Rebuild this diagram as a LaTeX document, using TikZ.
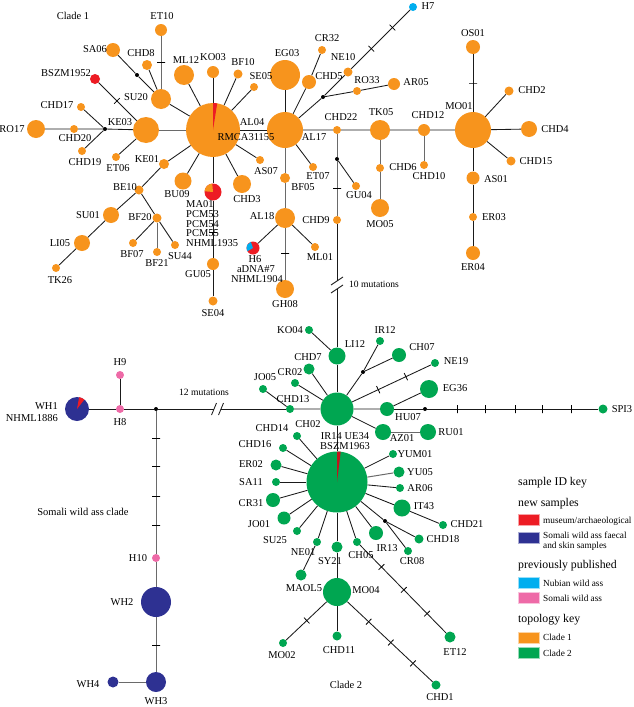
\documentclass[tikz,border=0pt]{standalone}
\usepackage{fontspec}
\setmainfont{Liberation Serif}
\definecolor{cladeone}{HTML}{F7941D}
\definecolor{cladetwo}{HTML}{00A651}
\definecolor{museum}{HTML}{ED1C24}
\definecolor{somali}{HTML}{2E3192}
\definecolor{nubian}{HTML}{00AEEF}
\definecolor{somalipub}{HTML}{EE6AA7}
\definecolor{linkdark}{HTML}{1A1A1A}
\definecolor{linklight}{HTML}{6A6A6A}

\begin{document}
\begin{tikzpicture}[
    x=1pt, y=-1pt,
    hap/.style={circle, fill=#1, inner sep=0pt},
    c1/.style={hap=cladeone, minimum size=#1},
    c2/.style={hap=cladetwo, minimum size=#1},
    cso/.style={hap=somali, minimum size=#1},
    cpk/.style={hap=somalipub, minimum size=#1},
    jn/.style={circle, fill=black, inner sep=0pt, minimum size=4pt},
    lab/.style={font=\fontsize{10.5}{10.5}\selectfont, inner sep=0pt},
    note/.style={font=\fontsize{9.6}{10}\selectfont, inner sep=0pt},
    link/.style={draw=linkdark, line width=0.85pt},
    glink/.style={draw=linklight, line width=1pt},
    mut/.style={draw=black, line width=0.8pt, sloped, inner sep=0pt, minimum width=0pt, minimum height=8pt},
    keybox/.style={rectangle, fill=#1, draw=#1!40, line width=0.5pt, minimum width=21pt, minimum height=11pt, inner sep=0pt},
    keytext/.style={font=\fontsize{9.3}{10}\selectfont, inner sep=0pt, anchor=west},
    keyhead/.style={font=\fontsize{11.8}{12}\selectfont, inner sep=0pt, anchor=west}
]
    \fill[white] (0,0) rectangle (633,707);
    \useasboundingbox (0,0) rectangle (633,707);

    % Clade 1 haplotypes
    \node[c1=54pt] (rmca) at (213,130) {};
    \fill[museum] (rmca.center) -- ++(-90:27) arc[start angle=-90, end angle=-81, radius=27] -- cycle;
    \node[c1=36pt] (al17) at (285,130) {};
    \node[c1=30pt] (eg03) at (285,75) {};
    \node[c1=20pt] (ml12) at (184,75) {};
    \node[c1=12pt] (ko03) at (213,72) {};
    \node[c1=9pt] (bf10) at (238,74) {};
    \node[c1=8pt] (se05) at (254,87) {};
    \node[c1=20pt] (su20) at (161,99) {};
    \node[c1=12pt] (et10) at (161,30) {};
    \node[c1=14pt] (sa06) at (113,50) {};
    \node[c1=10pt] (chd8) at (147,65) {};
    \node[jn] (j1) at (137,75) {};
    \node[hap=museum, minimum size=10pt] (bszm1952) at (95,79) {};
    \node[c1=26pt] (ke03) at (146,130) {};
    \node[jn] (j2) at (105,129) {};
    \node[c1=8pt] (chd20) at (74,129) {};
    \node[c1=18pt] (ro17) at (36,129) {};
    \node[c1=8pt] (chd17) at (81,107) {};
    \node[c1=8pt] (chd19) at (82,151) {};
    \node[c1=8pt] (et06) at (116,157) {};
    \node[c1=10pt] (ke01) at (164,164) {};
    \node[c1=8pt] (as07) at (260,160) {};
    \node[c1=8pt] (et07) at (313,167) {};
    \node[c1=10pt] (bf05) at (285,178) {};
    \node[c1=14pt] (chd5) at (309,82) {};
    \node[c1=8pt] (cr32) at (322,50) {};
    \node[c1=9pt] (ne10) at (348,72) {};
    \node[jn] (j3) at (323,97) {};
    \node[c1=8pt] (ro33) at (357,91) {};
    \node[c1=12pt] (ar05) at (394,84) {};
    \node[hap=nubian, minimum size=8pt] (h7) at (413,7) {};
    \node[c1=8pt] (chd22) at (337,130) {};
    \node[c1=20pt] (tk05) at (380,130) {};
    \node[c1=12pt] (chd12) at (424,130) {};
    \node[c1=36pt] (mo01) at (473,130) {};
    \node[c1=14pt] (os01) at (473,47) {};
    \node[c1=9pt] (chd2) at (509,91) {};
    \node[c1=16pt] (chd4) at (529,129) {};
    \node[c1=9pt] (chd15) at (511,161) {};
    \node[c1=13pt] (as01) at (473,178) {};
    \node[c1=8pt] (er03) at (473,217) {};
    \node[c1=14pt] (er04) at (473,253) {};
    \node[c1=8pt] (chd6) at (380,168) {};
    \node[c1=8pt] (chd10) at (424,165) {};
    \node[c1=18pt] (mo05) at (380,208) {};
    \node[jn] (j4) at (337,159) {};
    \node[c1=8pt] (gu04) at (356,186) {};
    \node[c1=8pt] (chd9) at (337,220) {};
    \node[c1=20pt] (al18) at (285,218) {};
    \node[c1=8pt] (ml01) at (315,247) {};
    \node[hap=museum, minimum size=13pt] (h6) at (253,248) {};
    \fill[nubian] (h6.center) -- ++(-210:6.5) arc[start angle=-210, end angle=-110, radius=6.5] -- cycle;
    \node[c1=18pt] (gh08) at (285,289) {};
    \node[hap=museum, minimum size=17pt] (ma01) at (213,192) {};
    \fill[cladeone] (ma01.center) -- ++(-175:8.5) arc[start angle=-175, end angle=-95, radius=8.5] -- cycle;
    \node[c1=12pt] (gu05) at (213,264) {};
    \node[c1=9pt] (se04) at (213,301) {};
    \node[c1=17pt] (bu09) at (183,181) {};
    \node[c1=18pt] (chd3) at (242,184) {};
    \node[c1=9pt] (be10) at (139,190) {};
    \node[c1=16pt] (su01) at (111,215) {};
    \node[c1=16pt] (li05) at (82,243) {};
    \node[c1=8pt] (tk26) at (56,268) {};
    \node[c1=9pt] (bf20) at (157,218) {};
    \node[c1=8pt] (bf07) at (133,243) {};
    \node[c1=8pt] (bf21) at (157,252) {};
    \node[c1=8pt] (su44) at (175,245) {};

    % Clade 2 haplotypes
    \node[c2=33pt] (hubB) at (337,409) {};
    \node[c2=17pt] (li12) at (337,356) {};
    \node[c2=8pt] (ko04) at (309,330) {};
    \node[c2=11pt] (chd7) at (309,369) {};
    \node[c2=8pt] (cr02) at (295,383) {};
    \node[c2=8pt] (jo05) at (263,389) {};
    \node[c2=8pt] (chd13) at (290,409) {};
    \node[c2=8pt] (ir12) at (380,341) {};
    \node[c2=14pt] (ch07) at (399,355) {};
    \node[jn] (j5) at (363,372) {};
    \node[c2=8pt] (ne19) at (435,363) {};
    \node[c2=18pt] (eg36) at (429,389) {};
    \node[c2=14pt] (hu07) at (387,409) {};
    \node[jn] (j6) at (425,409) {};
    \node[c2=9pt] (spi3) at (603,409) {};
    \node[c2=16pt] (az01) at (383,432) {};
    \node[c2=16pt] (ru01) at (428,432) {};
    \node[c2=61pt] (hubC) at (337,482) {};
    \fill[museum!80!black] (hubC.center) -- ++(-90:30.5) arc[start angle=-90, end angle=-83, radius=30.5] -- cycle;
    \node[c2=8pt] (ch02) at (297,436) {};
    \node[c2=8pt] (chd16) at (283,448) {};
    \node[c2=11pt] (er02) at (276,465) {};
    \node[c2=8pt] (sa11) at (276,482) {};
    \node[c2=14pt] (cr31) at (273,500) {};
    \node[c2=13pt] (jo01) at (284,518) {};
    \node[c2=8pt] (su25) at (297,531) {};
    \node[c2=8pt] (ne01) at (317,542) {};
    \node[c2=11pt] (maol5) at (301,575) {};
    \node[c2=11pt] (sy21) at (337,547) {};
    \node[c2=28pt] (mo04) at (337,592) {};
    \node[c2=8pt] (ch05) at (357,542) {};
    \node[c2=14pt] (ir13) at (376,533) {};
    \node[jn] (j7) at (385,521) {};
    \node[c2=9pt] (chd18) at (419,539) {};
    \node[c2=8pt] (cr08) at (408,551) {};
    \node[c2=17pt] (it43) at (402,508) {};
    \node[c2=8pt] (chd21) at (443,525) {};
    \node[c2=8pt] (ar06) at (400,488) {};
    \node[c2=11pt] (yu05) at (399,472) {};
    \node[c2=8pt] (yum01) at (393,454) {};
    \node[c2=11pt] (et12) at (450,637) {};
    \node[c2=8pt] (mo02) at (283,643) {};
    \node[c2=9pt] (chd11) at (337,636) {};
    \node[c2=9pt] (chd1) at (436,685) {};

    % Somali wild ass haplotypes
    \node[cso=24pt] (wh1) at (77,409) {};
    \fill[museum] (wh1.center) -- ++(-80:12) arc[start angle=-80, end angle=-52, radius=12] -- cycle;
    \node[cpk=8pt] (h8) at (120,409) {};
    \node[cpk=8pt] (h9) at (120,375) {};
    \node[jn] (j8) at (156,409) {};
    \node[cpk=8pt] (h10) at (156,558) {};
    \node[cso=30pt] (wh2) at (156,602) {};
    \node[cso=20pt] (wh3) at (156,682) {};
    \node[cso=11pt] (wh4) at (113,682) {};

    % Breaks
    \coordinate (brk1a) at (337,281);
    \coordinate (brk1b) at (337,289);
    \coordinate (brk2a) at (214,409);
    \coordinate (brk2b) at (221,409);

    % Clade 1 links
    \draw[link] (rmca) -- (al17);
    \draw[glink] (rmca) -- (ke03);
    \draw[link] (rmca) -- (ml12);
    \draw[link] (rmca) -- (ko03);
    \draw[link] (rmca) -- (bf10);
    \draw[link] (rmca) -- (se05);
    \draw[link] (rmca) -- (su20);
    \draw[link] (rmca) -- (ke01);
    \draw[link] (rmca) -- (bu09);
    \draw[link] (rmca) -- (ma01);
    \draw[link] (rmca) -- (chd3);
    \draw[link] (rmca) -- (as07);
    \draw[link] (ma01) -- node[mut, pos=0.55] {} (gu05) -- (se04);
    \draw[glink] (su20) -- node[mut, pos=0.5] {} (et10);
    \draw[link] (su20) -- (chd8);
    \draw[link] (su20) -- (j1) -- (sa06);
    \draw[link] (ke03) -- node[mut, pos=0.52] {} (bszm1952);
    \draw[link] (ke03) -- (j2) -- (chd20) -- (ro17);
    \draw[link] (j2) -- (chd17);
    \draw[link] (j2) -- (chd19);
    \draw[link] (ke03) -- (et06);
    \draw[link] (ke01) -- (be10) -- (su01) -- (li05) -- (tk26);
    \draw[link] (be10) -- (bf20);
    \draw[link] (bf20) -- (bf07);
    \draw[glink] (bf20) -- (bf21);
    \draw[link] (bf20) -- (su44);
    \draw[link] (al17) -- (eg03);
    \draw[link] (al17) -- (chd5) -- (cr32);
    \draw[link] (al17) -- (j3) -- (ne10) -- node[mut, pos=0.34] {} node[mut, pos=0.7] {} (h7);
    \draw[link] (j3) -- (ro33) -- (ar05);
    \draw[link] (al17) -- (et07);
    \draw[glink] (al17) -- (bf05) -- (al18) -- node[mut, pos=0.48] {} (gh08);
    \draw[link] (al18) -- (ml01);
    \draw[link] (al18) -- (h6);
    \draw[link] (al17) -- (chd22) -- (tk05) -- (chd12) -- (mo01) -- (chd4);
    \draw[glink] (tk05) -- (chd6) -- (mo05);
    \draw[glink] (chd12) -- (chd10);
    \draw[link] (mo01) -- node[mut, pos=0.5] {} (os01);
    \draw[link] (mo01) -- (chd2);
    \draw[link] (mo01) -- (chd15);
    \draw[link] (mo01) -- (as01) -- (er03) -- (er04);
    \draw[glink] (chd22) -- (j4) -- node[mut, pos=0.49] {} (chd9);
    \draw[link] (j4) -- (gu04);
    \draw[link] (chd9) -- (brk1a);
    \draw[link] (brk1b) -- (li12) -- (hubB);
    \draw[link] (brk1a) +(-6,4) -- +(6,-4);
    \draw[link] (brk1b) +(-6,4) -- +(6,-4);

    % Clade 2 links
    \draw[link] (li12) -- (ko04);
    \draw[link] (hubB) -- (chd7);
    \draw[link] (hubB) -- (cr02);
    \draw[link] (hubB) -- (chd13) -- (jo05);
    \draw[link] (hubB) -- (j5) -- (ir12);
    \draw[link] (j5) -- (ch07);
    \draw[link] (hubB) -- node[mut, pos=0.33] {} node[mut, pos=0.68] {} (ne19);
    \draw[link] (hubB) -- (hu07) -- (eg36);
    \draw[link] (hu07) -- (j6) -- node[mut, pos=0.175] {} node[mut, pos=0.338] {} node[mut, pos=0.513] {} node[mut, pos=0.676] {} node[mut, pos=0.845] {} (spi3);
    \draw[link] (hubB) -- (az01);
    \draw[glink] (az01) -- (ru01);
    \draw[link] (hubB) -- (hubC);
    \draw[link] (hubC) -- (ch02);
    \draw[link] (hubC) -- (chd16);
    \draw[link] (hubC) -- (er02);
    \draw[link] (hubC) -- (sa11);
    \draw[link] (hubC) -- (cr31);
    \draw[link] (hubC) -- (jo01);
    \draw[link] (hubC) -- (su25);
    \draw[link] (hubC) -- (ne01) -- (maol5);
    \draw[link] (hubC) -- (sy21) -- (mo04);
    \draw[link] (hubC) -- (ch05) -- node[mut, pos=0.25] {} node[mut, pos=0.51] {} node[mut, pos=0.78] {} (et12);
    \draw[link] (hubC) -- (ir13);
    \draw[link] (hubC) -- (j7) -- (chd18);
    \draw[link] (j7) -- (cr08);
    \draw[link] (hubC) -- (it43) -- (chd21);
    \draw[link] (hubC) -- (ar06);
    \draw[glink] (hubC) -- (yu05);
    \draw[link] (hubC) -- (yum01);
    \draw[link] (mo04) -- node[mut, pos=0.49] {} (mo02);
    \draw[link] (mo04) -- (chd11);
    \draw[link] (mo04) -- node[mut, pos=0.25] {} node[mut, pos=0.51] {} node[mut, pos=0.77] {} (chd1);

    % Somali links
    \draw[link] (wh1) -- (h8) -- (j8) -- (brk2a);
    \draw[link] (h8) -- (h9);
    \draw[link] (brk2b) -- (chd13);
    \draw[link] (brk2a) +(-2.5,6) -- +(2.5,-6);
    \draw[link] (brk2b) +(-2.5,6) -- +(2.5,-6);
    \draw[glink] (j8) -- node[mut, pos=0.19] {} node[mut, pos=0.39] {} node[mut, pos=0.6] {} node[mut, pos=0.8] {} (h10) -- (wh2) -- node[mut, pos=0.51] {} (wh3) -- (wh4);

    % Clade 1 labels
    \node[lab] (t-clade1) at (73,16) {Clade 1};
    \node[lab] (l-et10) at (162,16) {ET10};
    \node[lab] (l-sa06) at (95,49) {SA06};
    \node[lab] (l-chd8) at (141,53) {CHD8};
    \node[lab] (l-bszm1952) at (66,73) {BSZM1952};
    \node[lab] (l-chd17) at (57,105) {CHD17};
    \node[lab] (l-ke03) at (120,122) {KE03};
    \node[lab] (l-ro17) at (12,129) {RO17};
    \node[lab] (l-chd20) at (75,138) {CHD20};
    \node[lab] (l-chd19) at (85,162) {CHD19};
    \node[lab] (l-et06) at (118,168) {ET06};
    \node[lab] (l-ke01) at (147,159) {KE01};
    \node[lab] (l-su20) at (136,97) {SU20};
    \node[lab] (l-ml12) at (186,60) {ML12};
    \node[lab] (l-ko03) at (213,57) {KO03};
    \node[lab] (l-bf10) at (243,62) {BF10};
    \node[lab] (l-se05) at (261,76) {SE05};
    \node[lab] (l-eg03) at (287,53) {EG03};
    \node[lab] (l-al04) at (252,122) {AL04};
    \node[lab] (l-rmca) at (246,137) {RMCA31155};
    \node[lab] (l-al17) at (314,137) {AL17};
    \node[lab] (l-as07) at (266,171) {AS07};
    \node[lab] (l-et07) at (318,176) {ET07};
    \node[lab] (l-bf05) at (303,187) {BF05};
    \node[lab] (l-chd5) at (329,76) {CHD5};
    \node[lab] (l-cr32) at (327,38) {CR32};
    \node[lab] (l-ne10) at (343,57) {NE10};
    \node[lab] (l-ro33) at (367,80) {RO33};
    \node[lab] (l-ar05) at (416,82) {AR05};
    \node[lab] (l-h7) at (428,6) {H7};
    \node[lab] (l-chd22) at (341,117) {CHD22};
    \node[lab] (l-tk05) at (381,112) {TK05};
    \node[lab] (l-chd12) at (428,115) {CHD12};
    \node[lab] (l-mo01) at (459,106) {MO01};
    \node[lab] (l-os01) at (473,33) {OS01};
    \node[lab] (l-chd2) at (532,90) {CHD2};
    \node[lab] (l-chd4) at (555,129) {CHD4};
    \node[lab] (l-chd15) at (536,161) {CHD15};
    \node[lab] (l-as01) at (496,179) {AS01};
    \node[lab] (l-er03) at (494,217) {ER03};
    \node[lab] (l-er04) at (473,267) {ER04};
    \node[lab] (l-chd6) at (403,167) {CHD6};
    \node[lab] (l-chd10) at (429,176) {CHD10};
    \node[lab] (l-mo05) at (380,224) {MO05};
    \node[lab] (l-gu04) at (359,195) {GU04};
    \node[lab] (l-chd9) at (316,220) {CHD9};
    \node[lab] (l-al18) at (262,216) {AL18};
    \node[lab] (l-ml01) at (320,257) {ML01};
    \node[lab] (l-h6) at (255,259) {H6};
    \node[lab] (l-adna7) at (256,269) {aDNA\#7};
    \node[lab] (l-nhml1904) at (257,279) {NHML1904};
    \node[lab] (l-gh08) at (285,304) {GH08};
    \node[lab, anchor=west] (l-ma01) at (186,204) {MA01};
    \node[lab, anchor=west] (l-pcm53) at (186,214) {PCM53};
    \node[lab, anchor=west] (l-pcm54) at (186,224) {PCM54};
    \node[lab, anchor=west] (l-pcm55) at (186,233) {PCM55};
    \node[lab, anchor=west] (l-nhml1935) at (186,243) {NHML1935};
    \node[lab] (l-gu05) at (198,274) {GU05};
    \node[lab] (l-se04) at (213,313) {SE04};
    \node[lab] (l-bu09) at (177,194) {BU09};
    \node[lab] (l-chd3) at (247,199) {CHD3};
    \node[lab] (l-be10) at (125,187) {BE10};
    \node[lab] (l-su01) at (88,215) {SU01};
    \node[lab] (l-li05) at (60,243) {LI05};
    \node[lab] (l-tk26) at (60,280) {TK26};
    \node[lab] (l-bf20) at (140,217) {BF20};
    \node[lab] (l-bf07) at (132,254) {BF07};
    \node[lab] (l-bf21) at (157,263) {BF21};
    \node[lab] (l-su44) at (180,256) {SU44};
    \node[note] (t-mut10) at (374,284) {10 mutations};

    % Clade 2 labels
    \node[lab] (l-ko04) at (290,330) {KO04};
    \node[lab] (l-chd7) at (308,357) {CHD7};
    \node[lab] (l-cr02) at (290,372) {CR02};
    \node[lab] (l-jo05) at (265,377) {JO05};
    \node[lab] (l-chd13) at (293,399) {CHD13};
    \node[lab] (l-li12) at (355,344) {LI12};
    \node[lab] (l-ir12) at (385,330) {IR12};
    \node[lab] (l-ch07) at (422,347) {CH07};
    \node[lab] (l-ne19) at (456,361) {NE19};
    \node[lab] (l-eg36) at (455,388) {EG36};
    \node[lab] (l-hu07) at (408,417) {HU07};
    \node[lab] (l-az01) at (402,438) {AZ01};
    \node[lab] (l-ru01) at (451,432) {RU01};
    \node[lab] (l-spi3) at (622,409) {SPI3};
    \node[note] (t-mut12) at (204,392) {12 mutations};
    \node[lab] (l-chd14) at (272,428) {CHD14};
    \node[lab] (l-ch02) at (308,424) {CH02};
    \node[lab] (l-ir14) at (345,436) {IR14 UE34};
    \node[lab] (l-bszm1963) at (345,446) {BSZM1963};
    \node[lab] (l-chd16) at (255,444) {CHD16};
    \node[lab] (l-er02) at (251,464) {ER02};
    \node[lab] (l-sa11) at (251,482) {SA11};
    \node[lab] (l-cr31) at (251,503) {CR31};
    \node[lab] (l-jo01) at (259,524) {JO01};
    \node[lab] (l-su25) at (275,540) {SU25};
    \node[lab] (l-ne01) at (303,552) {NE01};
    \node[lab] (l-maol5) at (304,588) {MAOL5};
    \node[lab] (l-sy21) at (330,561) {SY21};
    \node[lab] (l-ch05) at (361,555) {CH05};
    \node[lab] (l-ir13) at (387,548) {IR13};
    \node[lab] (l-cr08) at (412,561) {CR08};
    \node[lab] (l-chd18) at (443,539) {CHD18};
    \node[lab] (l-chd21) at (467,524) {CHD21};
    \node[lab] (l-it43) at (424,506) {IT43};
    \node[lab] (l-ar06) at (420,488) {AR06};
    \node[lab] (l-yu05) at (420,472) {YU05};
    \node[lab] (l-yum01) at (415,454) {YUM01};
    \node[lab] (l-mo04) at (366,590) {MO04};
    \node[lab] (l-et12) at (455,652) {ET12};
    \node[lab] (l-mo02) at (282,655) {MO02};
    \node[lab] (l-chd11) at (339,650) {CHD11};
    \node[lab] (l-chd1) at (440,697) {CHD1};
    \node[lab] (t-clade2) at (346,685) {Clade 2};

    % Somali labels
    \node[lab, anchor=east] (l-wh1) at (58,406) {WH1};
    \node[lab, anchor=east] (l-nhml1886) at (58,418) {NHML1886};
    \node[lab] (l-h9) at (120,362) {H9};
    \node[lab] (l-h8) at (120,422) {H8};
    \node[lab] (l-h10) at (138,558) {H10};
    \node[lab] (l-wh2) at (122,602) {WH2};
    \node[lab] (l-wh3) at (156,701) {WH3};
    \node[lab] (l-wh4) at (88,684) {WH4};
    \node[lab] (t-somali) at (83,512) {Somali wild ass clade};

    % Key
    \node[keyhead] (k-head) at (518,483) {sample ID key};
    \node[keyhead] (k-new) at (518,504) {new samples};
    \node[keybox=museum] (k-mus) at (528.5,519.5) {};
    \node[keytext] (k-mus-t) at (543,521) {museum/archaeological};
    \node[keybox=somali] (k-som) at (528.5,537.5) {};
    \node[keytext] (k-som-t) at (543,535) {Somali wild ass faecal};
    \node[keytext] (k-som-t2) at (543,546) {and skin samples};
    \node[keyhead] (k-pub) at (518,566) {previously published};
    \node[keybox=nubian] (k-nub) at (528.5,582.5) {};
    \node[keytext] (k-nub-t) at (543,583) {Nubian wild ass};
    \node[keybox=somalipub] (k-spub) at (528.5,597.5) {};
    \node[keytext] (k-spub-t) at (543,598) {Somali wild ass};
    \node[keyhead] (k-topo) at (518,620) {topology key};
    \node[keybox=cladeone] (k-c1) at (528.5,637.5) {};
    \node[keytext] (k-c1-t) at (543,637) {Clade 1};
    \node[keybox=cladetwo] (k-c2) at (528.5,652.5) {};
    \node[keytext] (k-c2-t) at (543,653) {Clade 2};
\end{tikzpicture}
\end{document}
